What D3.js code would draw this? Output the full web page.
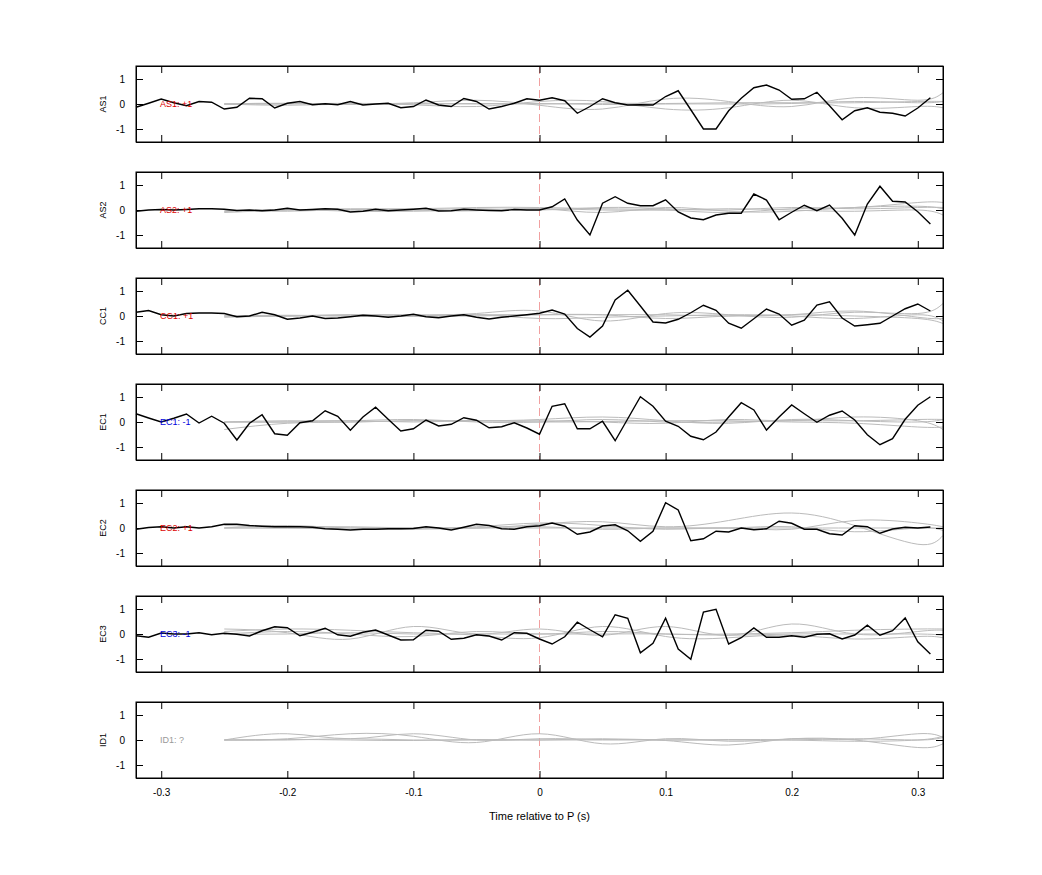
<!DOCTYPE html>
<html><head><meta charset="utf-8">
<script src="https://cdn.jsdelivr.net/npm/d3@7"></script>
<style>body{margin:0;background:#fff;font-family:"Liberation Sans",Arial,sans-serif}</style>
</head><body><svg id="chart" width="1042" height="875"></svg>
<script>
const channels = ["AS1","AS2","CC1","EC1","EC2","EC3","ID1"];
const labels = ["AS1: +1","AS2: +1","CC1: +1","EC1: -1","EC2: +1","EC3: -1","ID1: ?"];
const labelColors = ["#d00","#d00","#d00","#00d","#d00","#00d","#999"];
const xTicks = [-0.3,-0.2,-0.1,0,0.1,0.2,0.3];
const yTicks = [-1,0,1];
// black trace sampled at -0.32 .. 0.31 every 0.01
const tBlack = d3.range(64).map(i => +(-0.32 + i*0.01).toFixed(2));
const AS1 = [-0.13,0.03,0.2,0.05,-0.07,0.1,0.07,-0.2,-0.13,0.23,0.21,-0.16,0.03,0.1,-0.03,0.01,-0.03,0.1,-0.04,0,0.03,-0.15,-0.1,0.16,-0.04,-0.1,0.22,0.1,-0.2,-0.1,0.03,0.21,0.15,
  0.25,0.13,-0.37,-0.1,0.21,0.05,-0.04,-0.03,-0.04,0.3,0.53,-0.23,-1.0,-1.0,-0.27,0.23,0.65,0.76,0.56,0.19,0.21,0.47,-0.07,-0.63,-0.27,-0.15,-0.33,-0.37,-0.48,-0.16,0.25];
const AS2 = [-0.05,0,0.02,0,0.02,0.05,0.05,0.03,-0.02,0,-0.03,0,0.07,0,0.02,0.05,0.03,-0.08,-0.05,0.03,-0.03,0,0.03,0.07,-0.04,-0.03,0.03,0,-0.02,-0.03,0.02,0,0,
  0.13,0.44,-0.4,-1.0,0.27,0.53,0.27,0.17,0.17,0.41,-0.08,-0.32,-0.39,-0.2,-0.13,-0.13,0.64,0.4,-0.39,-0.09,0.19,-0.03,0.2,-0.33,-1.0,0.24,0.95,0.35,0.32,-0.07,-0.56];
const CC1 = [0.15,0.22,0.05,0,0.1,0.12,0.12,0.1,-0.03,0,0.15,0.05,-0.13,-0.08,0,-0.1,-0.08,-0.03,0.03,0,-0.05,0,0.07,-0.03,-0.07,0,0.05,-0.05,-0.12,-0.05,0,0.05,0.11,
  0.24,0.08,-0.5,-0.84,-0.4,0.64,1.03,0.4,-0.24,-0.28,-0.13,0.13,0.43,0.23,-0.29,-0.49,-0.11,0.28,0.08,-0.37,-0.17,0.44,0.57,-0.08,-0.4,-0.35,-0.29,0,0.29,0.48,0.2];
const EC1 = [0.33,0.16,0,0.15,0.32,-0.04,0.23,-0.05,-0.72,-0.05,0.29,-0.47,-0.53,-0.03,0.05,0.45,0.23,-0.33,0.2,0.59,0.11,-0.36,-0.27,0.08,-0.16,-0.09,0.17,0.07,-0.23,-0.19,-0.03,-0.24,-0.49,
  0.63,0.73,-0.27,-0.27,0.03,-0.75,0.13,1.01,0.63,0.03,-0.17,-0.57,-0.71,-0.4,0.2,0.77,0.48,-0.32,0.2,0.68,0.33,-0.01,0.27,0.44,0.08,-0.51,-0.91,-0.67,0.11,0.67,1.01];
const EC2 = [-0.05,0.02,0.05,0,0.05,0,0.05,0.15,0.15,0.1,0.07,0.05,0.05,0.05,0.03,-0.03,-0.05,-0.08,-0.05,-0.05,-0.03,-0.03,-0.02,0.05,0,-0.08,0.03,0.15,0.1,-0.03,-0.05,0.05,0.09,
  0.2,0.07,-0.25,-0.16,0.08,0.13,-0.11,-0.53,-0.13,1.01,0.72,-0.51,-0.43,-0.13,-0.16,0,-0.07,-0.03,0.27,0.19,-0.05,-0.05,-0.23,-0.28,0.09,0.05,-0.21,-0.04,0.03,0,0.04];
const EC3 = [-0.07,-0.13,0.04,0,0,0.05,-0.03,0.03,-0.01,-0.08,0.13,0.29,0.25,-0.07,0.07,0.23,-0.03,-0.09,0.07,0.16,-0.04,-0.24,-0.23,0.15,0.11,-0.21,-0.17,-0.03,-0.08,-0.24,0.05,0.03,-0.2,
  -0.4,-0.11,0.47,0.17,-0.11,0.77,0.63,-0.75,-0.37,0.63,-0.6,-1.01,0.88,0.99,-0.4,-0.15,0.24,-0.13,-0.13,-0.07,-0.13,-0.01,0.01,-0.2,-0.04,0.35,-0.05,0.13,0.64,-0.31,-0.8];
const blackSeries = [AS1,AS2,CC1,EC1,EC2,EC3,null];
// grey traces sampled every 0.05 from -0.25, last at 0.32
const tGrey = [-0.25,-0.2,-0.15,-0.1,-0.05,0,0.05,0.1,0.15,0.2,0.25,0.3,0.32];
const greyAS1 = [[0,0.02,0,0.05,0.15,-0.05,-0.2,0.2,0.1,-0.1,0.25,0.15,0.45],[0,-0.05,0,-0.03,-0.1,0.1,0.1,-0.2,-0.15,0.15,-0.15,-0.1,-0.15],[0,0,0.03,0,0.02,0,0.03,0.02,0.05,0.05,0.05,0.1,0.1],[0,0.03,-0.02,0.02,0,0.02,-0.02,0,0,0.02,0.1,0.05,0.1]];
const greyAS2 = [[-0.1,0,0.05,0.05,0.1,0.1,0.05,0,-0.1,0.05,0.1,0.3,0.3],[-0.05,0.02,-0.05,-0.05,0,0.05,0,0,0.05,0,-0.05,0,-0.2],[-0.05,0,0,0,0.05,0,0.1,0.05,0,0.1,0.05,0.1,0.1],[0,-0.05,0.02,0,-0.03,0.05,-0.1,0.1,-0.05,-0.05,0.1,0.15,0.05]];
const greyCC1 = [[0,0,0.05,0.05,0.1,0.2,-0.2,0.1,0.05,-0.05,0.15,0.1,0.5],[-0.05,0,0,-0.02,0.05,0.05,0.05,-0.1,0,0.05,0.2,-0.05,-0.1],[0,0.03,0,0,0.05,-0.1,-0.05,0,0.05,0,-0.1,0.05,-0.2],[0,0,0.05,0,0,0.05,0.05,0.05,0,0.05,0,-0.1,-0.3]];
const greyEC1 = [[-0.3,-0.05,0,0.05,0.05,0.1,0.2,0.05,-0.05,0.1,0.05,0,0.1],[0,0,0,0.05,0.05,0.05,0,-0.05,0.1,0.05,0.2,0.05,-0.3],[0,0.05,0.05,0.1,0,0,0.1,0,0,0.05,0.05,0.1,0.1],[0,0,0.05,0,0.05,0,0.02,0.05,0.05,0,-0.05,-0.2,-0.2]];
const greyEC2 = [[0,0.1,0,0,0,0.15,0.25,0.05,0.3,0.6,0.1,-0.65,-0.3],[0.1,0.05,0.05,0,0.05,0.2,0.1,-0.05,0,-0.05,0.3,0.2,0.05],[0,0,-0.05,-0.05,0,0.05,-0.05,0,0,0.05,-0.15,0,-0.1],[0,0,0,0,0,0,0,0,0,0,0,0,0]];
const greyEC3 = [[0.2,0.05,-0.2,0.3,0,0.2,-0.05,0.3,-0.05,0.4,0,0.1,0.15],[0.1,0.2,0.15,0.05,-0.05,-0.15,0.3,-0.1,-0.15,-0.05,-0.2,-0.1,-0.15],[0,0.1,0,-0.1,0.1,0,0.1,0,0,0.05,0.15,0.2,0.2],[0,0,0.05,0,0,0,0,0,-0.05,0,0,0,-0.05]];
const greyID1 = [[0,0.05,0.25,0.15,-0.1,0.25,-0.15,0.05,-0.05,0.05,0,-0.3,-0.15],[0,0.25,0.05,0.25,0,0.05,0.02,-0.02,-0.2,0.05,0.02,0.25,0.1],[0,0,0.05,0,0,0,0,0,0,0,0.05,0,0.1],[0,0.02,0,-0.02,0.02,0,0.05,0,0.02,0,-0.05,0,0.15]];
const greySeries = [greyAS1,greyAS2,greyCC1,greyEC1,greyEC2,greyEC3,greyID1];

const svg = d3.select("#chart");
const left = 136, width = 807, panelH = 76, top0 = 66, step = 106;
const x = d3.scaleLinear().domain([-0.32,0.32]).range([left, left+width]);
const fmt = d => String(d); // plain hyphen minus like the original

channels.forEach((ch, i) => {
  const top = top0 + i*step;
  const y = d3.scaleLinear().domain([-1.52,1.52]).range([top+panelH, top]);
  const g = svg.append("g");
  const lineB = d3.line().x((d,j) => x(tBlack[j])).y(d => y(d));
  const lineG = d3.line().x((d,j) => x(tGrey[j])).y(d => y(d)).curve(d3.curveNatural);

  g.append("line").attr("x1", x(0)).attr("x2", x(0)).attr("y1", top).attr("y2", top+panelH)
    .attr("stroke", "#e88").attr("stroke-width", 0.8).attr("stroke-dasharray", "8,4");
  greySeries[i].forEach(s => g.append("path").attr("d", lineG(s)).attr("fill","none")
    .attr("stroke","#bbb").attr("stroke-width",1));
  if (blackSeries[i]) g.append("path").attr("d", lineB(blackSeries[i])).attr("fill","none")
    .attr("stroke","#000").attr("stroke-width",1.4);

  g.append("text").attr("x", 160).attr("y", y(0)+3).attr("font-size", 9)
    .attr("fill", labelColors[i]).text(labels[i]);

  // axes, MATLAB style inward ticks on all sides
  const ax = g.append("g").attr("font-size", 10);
  ax.append("g").attr("transform", `translate(${left},0)`)
    .call(d3.axisLeft(y).tickValues(yTicks).tickSize(-7).tickPadding(11).tickFormat(fmt));
  ax.append("g").attr("transform", `translate(${left+width},0)`)
    .call(d3.axisRight(y).tickValues(yTicks).tickSize(-7).tickFormat(""));
  ax.append("g").attr("transform", `translate(0,${top})`)
    .call(d3.axisTop(x).tickValues(xTicks).tickSize(-7).tickFormat(""));
  ax.append("g").attr("transform", `translate(0,${top+panelH})`)
    .call(d3.axisBottom(x).tickValues(xTicks).tickSize(-7).tickPadding(11)
      .tickFormat(i === channels.length-1 ? fmt : ""));
  ax.selectAll(".domain").attr("stroke","#000");
  ax.selectAll("text").attr("font-family","Liberation Sans, Arial").attr("fill","#000");
  g.append("rect").attr("x", left).attr("y", top).attr("width", width).attr("height", panelH)
    .attr("fill","none").attr("stroke","#000").attr("stroke-width",1);

  g.append("text").attr("transform", `translate(106,${y(0)}) rotate(-90)`)
    .attr("text-anchor","middle").attr("font-size", 9).text(ch);
});

svg.append("text").attr("x", x(0)).attr("y", 820).attr("text-anchor","middle")
  .attr("font-size", 11).text("Time relative to P (s)");
</script></body></html>
